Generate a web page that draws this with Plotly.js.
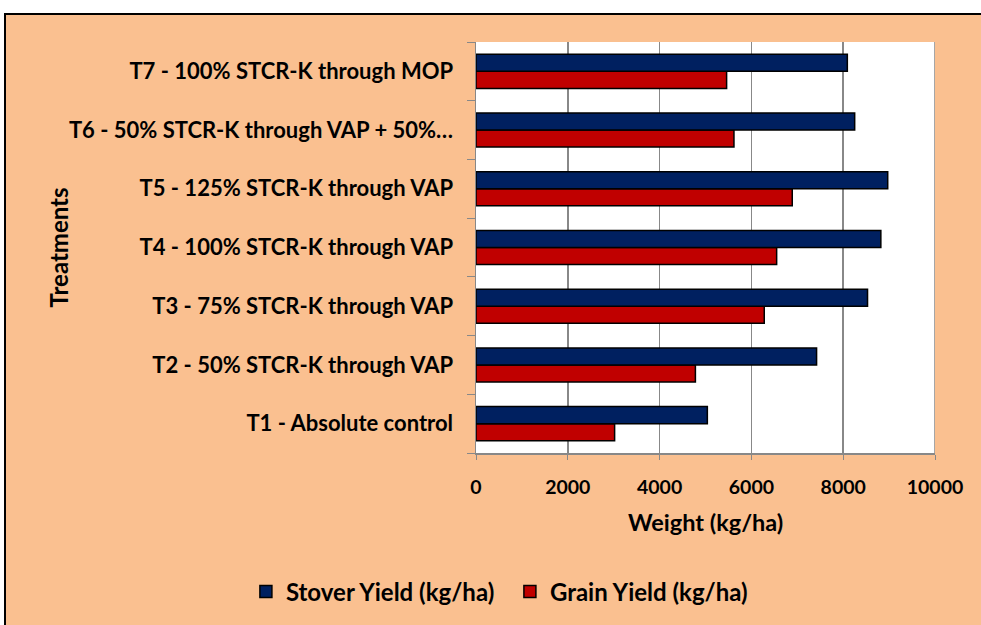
<!DOCTYPE html>
<html>
<head>
<meta charset="utf-8">
<script src="https://cdn.plot.ly/plotly-3.0.1.min.js"></script>
<style>
html,body{margin:0;padding:0;background:#ffffff;overflow:hidden;width:981px;height:625px;}
#bg{position:absolute;left:4px;top:13px;width:977px;height:612px;background:#FAC090;}
#topline{position:absolute;left:4px;top:13px;width:977px;height:2px;background:#000;z-index:10;}
#leftline{position:absolute;left:4px;top:13px;width:2px;height:612px;background:#000;z-index:10;}
#rightcover{position:absolute;left:968px;top:15px;width:13px;height:610px;background:#FAC090;z-index:10;}
#chart{position:absolute;left:6px;top:15px;width:975px;height:610px;}
</style>
</head>
<body>
<div id="bg"></div>
<div id="chart"></div>
<div id="rightcover"></div>
<div id="topline"></div>
<div id="leftline"></div>
<script>
const categories = [
  "T1 - Absolute control",
  "T2 - 50% STCR-K through VAP",
  "T3 - 75% STCR-K through VAP",
  "T4 - 100% STCR-K through VAP",
  "T5 - 125% STCR-K through VAP",
  "T6 - 50% STCR-K through VAP + 50%…",
  "T7 - 100% STCR-K through MOP"
];
const stoverYield = [5040, 7420, 8530, 8820, 8970, 8250, 8090];
const grainYield  = [3020, 4780, 6280, 6550, 6890, 5620, 5460];
const xTicks = [0, 2000, 4000, 6000, 8000, 10000];
const xTitle = "Weight (kg/ha)";
const yTitle = "Treatments";

const FONT = "Lato, 'Open Sans', sans-serif";

const traces = [
  {
    type: "bar", orientation: "h", name: "Grain Yield (kg/ha)",
    y: categories, x: grainYield, legendrank: 2,
    marker: {color: "#C00000", line: {color: "#000000", width: 1.5}}
  },
  {
    type: "bar", orientation: "h", name: "Stover Yield (kg/ha)",
    y: categories, x: stoverYield, legendrank: 1,
    marker: {color: "#002060", line: {color: "#000000", width: 1.5}}
  }
];

const layout = {
  width: 975, height: 610,
  margin: {l: 470, r: 46, t: 27, b: 171},
  paper_bgcolor: "#FAC090",
  plot_bgcolor: "#FFFFFF",
  barmode: "group",
  bargap: 0.42,
  bargroupgap: 0,
  font: {family: FONT, size: 18, color: "#000000", weight: "bold"},
  showlegend: true,
  legend: {
    orientation: "h", x: -0.5013, xanchor: "left", y: -0.335, yanchor: "middle",
    font: {family: FONT, size: 24, color: "#000", weight: "bold"},
    entrywidth: 219, entrywidthmode: "pixels",
    bgcolor: "rgba(0,0,0,0)"
  },
  xaxis: {
    range: [0, 10000], tickvals: xTicks, ticktext: xTicks.map(String),
    showgrid: true, gridcolor: "#888888", gridwidth: 1.5,
    showline: true, linecolor: "#888888", linewidth: 1.5, mirror: false,
    ticks: "outside", ticklen: 5, tickcolor: "#888888",
    tickfont: {family: FONT, size: 19.5, color: "#000", weight: "bold"},
    ticklabelstandoff: 11,
    zeroline: false,
    fixedrange: true
  },
  yaxis: {
    type: "category", categoryorder: "array", categoryarray: categories,
    showgrid: false, showline: true, linecolor: "#888888", linewidth: 1.5,
    ticks: "outside", ticklen: 8, tickcolor: "#888888", tickson: "boundaries",
    tickfont: {family: FONT, size: 22, color: "#000", weight: "bold"},
    ticklabelstandoff: 17,
    fixedrange: true
  },
  annotations: [
    {text: xTitle, xref: "paper", yref: "paper", x: 0.5, y: -0.1675, xanchor: "center", yanchor: "middle",
     showarrow: false, font: {family: FONT, size: 23.5, color: "#000", weight: "bold"}},
    {text: yTitle, xref: "paper", yref: "paper", x: -0.9085, y: 0.5, xanchor: "center", yanchor: "middle",
     textangle: -90, showarrow: false, font: {family: FONT, size: 24, color: "#000", weight: "bold"}}
  ],
  shapes: [
    {type: "line", xref: "x", yref: "paper", x0: 10000, x1: 10000, y0: 0, y1: 1, line: {color: "#888888", width: 1.5}}
  ]
};

Plotly.newPlot("chart", traces, layout, {displayModeBar: false, staticPlot: true});
</script>
</body>
</html>
